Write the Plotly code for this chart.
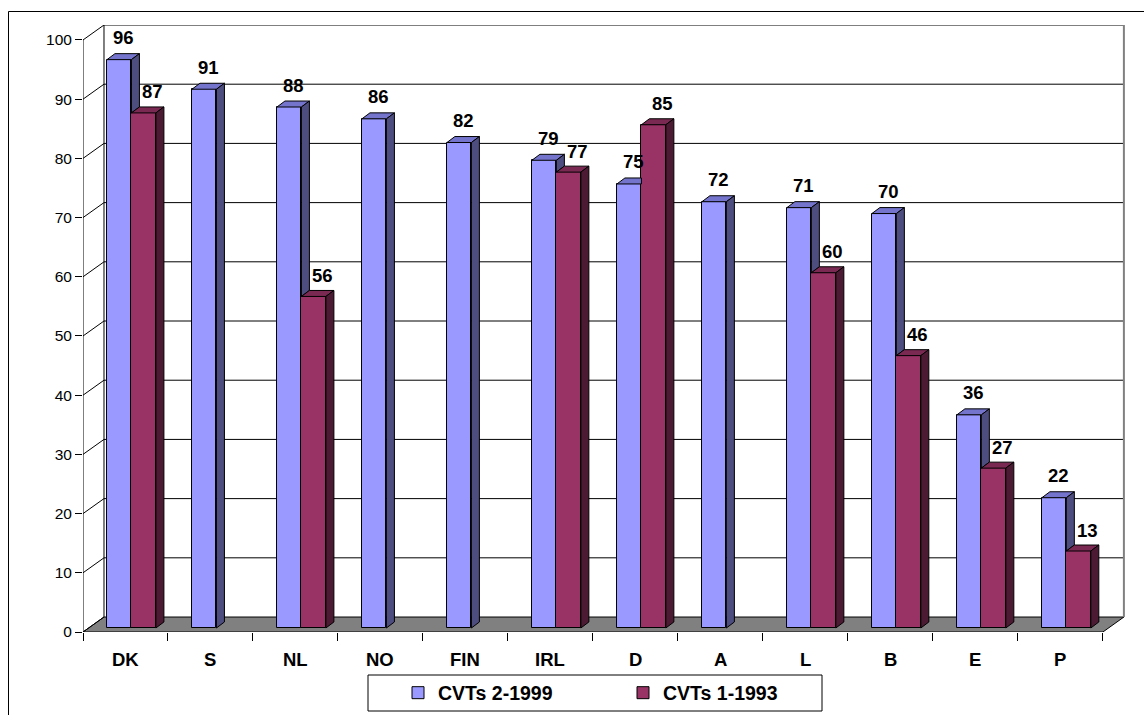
import plotly.graph_objects as go

categories = ["DK", "S", "NL", "NO", "FIN", "IRL", "D", "A", "L", "B", "E", "P"]
cvts2_1999 = [96, 91, 88, 86, 82, 79, 75, 72, 71, 70, 36, 22]
cvts1_1993 = [87, None, 56, None, None, 77, 85, None, 60, 46, 27, 13]
y_ticks = list(range(0, 101, 10))
series_names = ["CVTs 2-1999", "CVTs 1-1993"]

BLUE_FRONT, BLUE_TOP, BLUE_SIDE = "#9999FF", "#7474CC", "#4D4D80"
RED_FRONT, RED_TOP, RED_SIDE = "#993366", "#7A2952", "#4D1A33"
FONT = "Liberation Sans, Arial, sans-serif"

# 3D geometry in data units
n = len(categories)
WALL_DX, WALL_DY = 0.247, 2.53     # depth of the floor / walls
BAR_OFF = 0.282                    # front face offset inside category
BAR_W = 0.288
BASE = 0.68                        # bar front plane on the floor
DDX, DDY = 0.094, 1.01             # bar depth
XMAX = n + 0.26
YMAX = 100 + WALL_DY

W, H = 1144, 715
ML, MR, MT, MB = 83, W - 1125, 25, H - 632

fig = go.Figure()

xs = list(range(n))
fig.add_trace(go.Bar(
    x=xs, y=cvts2_1999, base=BASE, offset=BAR_OFF, width=BAR_W,
    marker=dict(color=BLUE_FRONT, line=dict(color="black", width=1)),
    name=series_names[0], hoverinfo="skip"))
fig.add_trace(go.Bar(
    x=xs, y=[v if v is not None else 0 for v in cvts1_1993], base=BASE,
    offset=BAR_OFF + BAR_W, width=BAR_W,
    marker=dict(color=RED_FRONT, line=dict(color="black", width=1)),
    marker_line_width=[1 if v is not None else 0 for v in cvts1_1993],
    name=series_names[1], hoverinfo="skip"))


def poly_trace(polys, color):
    px, py = [], []
    for p in polys:
        for (a, b) in p:
            px.append(a)
            py.append(b)
        px.append(p[0][0])
        py.append(p[0][1])
        px.append(None)
        py.append(None)
    return go.Scatter(x=px, y=py, mode="lines", fill="toself", fillcolor=color,
                      line=dict(color="black", width=1), showlegend=False,
                      hoverinfo="skip")


b_top, b_side, r_top, r_side = [], [], [], []
for i in range(n):
    bv, rv = cvts2_1999[i], cvts1_1993[i]
    x0 = i + BAR_OFF
    x1 = x0 + BAR_W
    x2 = x1 + BAR_W
    bt = BASE + bv
    if rv is not None and rv > bv:
        b_top.append([(x0, bt), (x1, bt), (x1, bt + DDY), (x0 + DDX, bt + DDY)])
    else:
        b_top.append([(x0, bt), (x1, bt), (x1 + DDX, bt + DDY), (x0 + DDX, bt + DDY)])
    lower = None
    if rv is None:
        lower = BASE
    elif rv < bv:
        lower = BASE + rv
    if lower is not None:
        b_side.append([(x1, lower), (x1, bt), (x1 + DDX, bt + DDY), (x1 + DDX, lower + DDY)])
    if rv is not None:
        rt = BASE + rv
        r_top.append([(x1, rt), (x2, rt), (x2 + DDX, rt + DDY), (x1 + DDX, rt + DDY)])
        r_side.append([(x2, BASE), (x2, rt), (x2 + DDX, rt + DDY), (x2 + DDX, BASE + DDY)])

fig.add_trace(poly_trace(b_top, BLUE_TOP))
fig.add_trace(poly_trace(b_side, BLUE_SIDE))
fig.add_trace(poly_trace(r_top, RED_TOP))
fig.add_trace(poly_trace(r_side, RED_SIDE))

shapes = []
# floor
shapes.append(dict(type="path", xref="x", yref="y", layer="below",
                   path=f"M0,0 L{n},0 L{n + WALL_DX},{WALL_DY} L{WALL_DX},{WALL_DY} Z",
                   fillcolor="#808080", line=dict(color="black", width=1)))
# back wall gridlines and left wall diagonals
for v in y_ticks:
    if v > 0:
        shapes.append(dict(type="line", xref="x", yref="y", layer="below",
                           x0=WALL_DX, x1=n + WALL_DX, y0=v + WALL_DY, y1=v + WALL_DY,
                           line=dict(color="black", width=1)))
    shapes.append(dict(type="line", xref="x", yref="y", layer="below",
                       x0=0, x1=WALL_DX, y0=v, y1=v + WALL_DY,
                       line=dict(color="black", width=1)))
# back wall left & right edges
shapes.append(dict(type="line", xref="x", yref="y", layer="below",
                   x0=WALL_DX, x1=WALL_DX, y0=WALL_DY, y1=100 + WALL_DY,
                   line=dict(color="black", width=1)))
shapes.append(dict(type="line", xref="x", yref="y", layer="below",
                   x0=n + WALL_DX, x1=n + WALL_DX, y0=WALL_DY, y1=100 + WALL_DY,
                   line=dict(color="#808080", width=2)))
# front value axis line
shapes.append(dict(type="line", xref="x", yref="y", layer="below",
                   x0=0, x1=0, y0=0, y1=100, line=dict(color="black", width=1)))

# legend box and outer border (paper coords)
pw = W - ML - MR
ph = H - MT - MB


def pxx(p):
    return (p - ML) / pw


def pxy(p):
    return (H - MB - p) / ph


shapes.append(dict(type="rect", xref="paper", yref="paper",
                   x0=pxx(368), x1=pxx(822), y0=pxy(711), y1=pxy(675),
                   line=dict(color="black", width=1), fillcolor="rgba(0,0,0,0)"))
shapes.append(dict(type="rect", xref="paper", yref="paper",
                   x0=pxx(8.5), x1=pxx(1160), y0=pxy(730), y1=pxy(11.5),
                   line=dict(color="black", width=1), fillcolor="rgba(0,0,0,0)"))

annotations = []
for i, c in enumerate(categories):
    annotations.append(dict(x=i + 0.5, y=0, xref="x", yref="y", text=c,
                            showarrow=False, yanchor="middle", yshift=-27,
                            font=dict(family=FONT, size=18.5, color="black", weight="bold")))
for i in range(n):
    bv, rv = cvts2_1999[i], cvts1_1993[i]
    x0 = i + BAR_OFF
    annotations.append(dict(x=x0 + (BAR_W + DDX) / 2, y=BASE + bv, xref="x", yref="y",
                            text=str(bv), showarrow=False, yanchor="middle", yshift=22,
                            font=dict(family=FONT, size=18.5, color="black", weight="bold")))
    if rv is not None:
        annotations.append(dict(x=x0 + BAR_W + (BAR_W + DDX) / 2 + 0.06, y=BASE + rv,
                                xref="x", yref="y", text=str(rv), showarrow=False,
                                yanchor="middle", yshift=21,
                                font=dict(family=FONT, size=18.5, color="black", weight="bold")))

fig.update_layout(
    width=W, height=H, autosize=False,
    margin=dict(l=ML, r=MR, t=MT, b=MB, pad=0, autoexpand=False),
    paper_bgcolor="white", plot_bgcolor="white",
    barmode="overlay", bargap=0,
    shapes=shapes, annotations=annotations,
    showlegend=True,
    legend=dict(orientation="h", x=pxx(398), xanchor="left", y=pxy(693), yanchor="middle",
                bgcolor="rgba(0,0,0,0)", borderwidth=0, entrywidth=180,
                font=dict(family=FONT, size=19.5, color="black", weight="bold"),
                traceorder="normal"),
    xaxis=dict(range=[0, XMAX], showgrid=False, zeroline=False, showline=False,
               tickmode="array", tickvals=list(range(n + 1)),
               ticktext=["" for _ in range(n + 1)],
               ticks="outside", ticklen=8, tickcolor="black", tickwidth=1,
               fixedrange=True),
    yaxis=dict(range=[0, YMAX], showgrid=False, zeroline=False, showline=False,
               tickmode="array", tickvals=y_ticks, ticktext=[str(v) for v in y_ticks],
               ticks="outside", ticklen=7, tickcolor="black", tickwidth=1,
               ticklabelstandoff=0,
               tickfont=dict(family=FONT, size=15.5, color="black"),
               fixedrange=True),
)

fig.write_html("out.html")
